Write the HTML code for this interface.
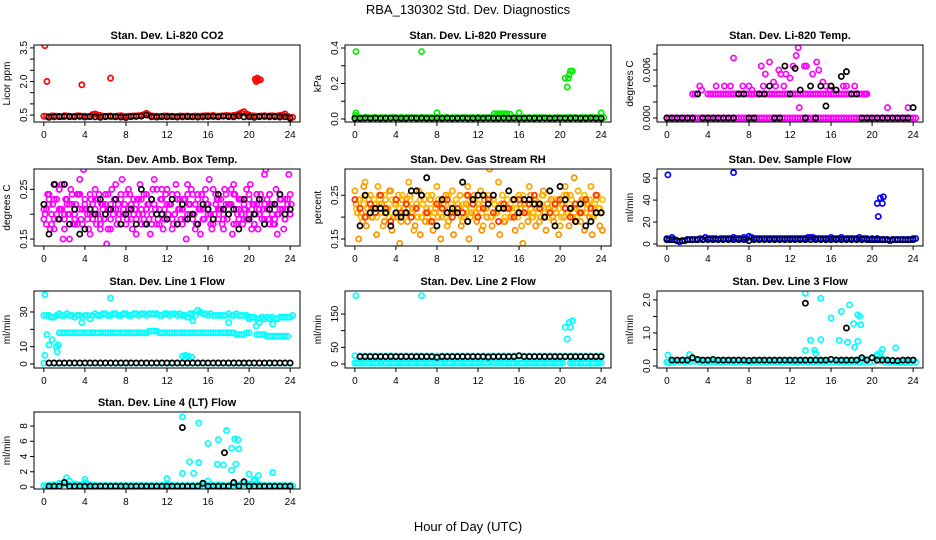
<!DOCTYPE html>
<html><head><meta charset="utf-8"><style>
html,body{margin:0;padding:0;background:#fff;}
svg{display:block;font-family:"Liberation Sans",Arial,sans-serif;}
</style></head><body>
<svg id="chart" width="936" height="540" viewBox="0 0 936 540">
<text x="468" y="14" text-anchor="middle" font-size="13">RBA_130302  Std. Dev. Diagnostics</text>
<text x="468" y="531" text-anchor="middle" font-size="13">Hour of Day (UTC)</text>
</svg>
<script>
const T49=[];for(let i=0;i<=48;i++)T49.push(i*0.5);
const T49b=[];for(let i=0;i<=48;i++)T49b.push(0.25+i*0.5);
const T97=[];for(let i=0;i<=96;i++)T97.push(i*0.25);
const T97b=[];for(let i=0;i<=96;i++)T97b.push(0.12+i*0.25);
const xTicks=[0,4,8,12,16,20,24];

// Panel 1 CO2
const co2Band=[0.45,0.43,0.46,0.44,0.47,0.45,0.44,0.46,0.45,0.44,0.55,0.48,0.44,0.46,0.45,0.47,0.44,0.45,0.46,0.48,0.58,0.46,0.45,0.44,0.46,0.45,0.44,0.45,0.46,0.44,0.45,0.46,0.47,0.48,0.45,0.46,0.47,0.49,0.55,0.65,0.5,0.46,0.45,0.47,0.46,0.45,0.48,0.55,0.35];
const co2Band2=[0.44,0.46,0.45,0.43,0.46,0.44,0.47,0.45,0.44,0.52,0.5,0.45,0.45,0.44,0.46,0.45,0.45,0.46,0.47,0.52,0.5,0.45,0.44,0.46,0.45,0.44,0.46,0.45,0.44,0.46,0.45,0.47,0.46,0.45,0.46,0.48,0.46,0.5,0.6,0.55,0.47,0.45,0.46,0.45,0.47,0.46,0.5,0.45,0.4];
const co2Black=[null,0.4,0.42,0.43,0.44,0.43,0.42,0.44,0.41,0.43,0.42,0.4,0.43,0.44,0.42,0.41,0.39,0.43,0.44,0.45,0.5,0.42,0.41,0.43,0.42,0.43,0.41,0.42,0.43,0.42,0.41,0.42,0.43,0.44,0.42,0.45,0.43,0.42,0.46,0.42,0.42,0.4,0.43,0.44,0.42,0.43,0.41,0.42,0.38];
const co2OutX=[0.1,0.3,3.7,6.5,20.6,20.8,20.9,21.1,20.7];
const co2OutY=[3.6,2.0,1.85,2.15,2.1,2.15,2.05,2.08,2.0];

// Panel 2 pressure
const presBand=[0.005,0.007,0.008,0.006,0.009,0.007,0.008,0.006,0.007,0.009,0.008,0.006,0.007,0.009,0.008,0.007,0.006,0.008,0.009,0.007,0.008,0.006,0.007,0.008,0.009,0.007,0.006,0.008,0.007,0.009,0.008,0.007,0.006,0.008,0.007,0.009,0.008,0.006,0.007,0.008,0.006,0.007,0.009,0.008,0.007,0.008,0.009,0.008,0.007];
const presBand2=[0.008,0.006,0.009,0.007,0.006,0.008,0.007,0.009,0.006,0.007,0.008,0.009,0.006,0.007,0.008,0.006,0.009,0.007,0.006,0.008,0.007,0.009,0.008,0.006,0.007,0.008,0.009,0.006,0.008,0.007,0.006,0.009,0.008,0.007,0.006,0.008,0.009,0.007,0.006,0.008,0.007,0.009,0.008,0.006,0.009,0.007,0.008,0.006,0.008];
const presBlack=[0.004,0.004,0.005,0.004,0.005,0.004,0.004,0.005,0.005,0.004,0.004,0.005,0.004,0.005,0.004,0.004,0.005,0.004,0.005,0.004,0.004,0.005,0.004,0.004,0.005,0.004,0.005,0.004,0.004,0.005,0.004,0.005,0.004,0.004,0.005,0.004,0.004,0.005,0.004,0.004,0.005,0.004,0.004,0.005,0.004,0.004,0.005,0.004,0.004];
const presOutX=[0.1,6.5,0.1,0.05,8,16,24,13.6,13.9,14.2,14.5,14.8,15.1,20.5,20.7,20.8,20.9,21.0,21.2];
const presOutY=[0.38,0.38,0.035,0.02,0.035,0.035,0.035,0.03,0.03,0.03,0.03,0.03,0.028,0.23,0.18,0.23,0.25,0.27,0.27];

// Panel 3 Li-820 temp
const tempZero=[0,0,0,0,0,0,0,0,0,0,0,0,0,0,0,0,0,0,0,0,0,0,0,0,0,0,0,0,0,0,0,0,0,0,0,0,0,0,0,0,0,0,0,0,0,0,0,0,0];
const tempMid=[null,null,null,null,null,0.003,0.003,null,0.003,0.003,0.003,0.003,0.003,0.003,0.003,0.003,0.003,0.003,0.003,0.003,0.003,0.003,0.003,0.003,0.003,0.003,0.003,0.003,0.003,0.003,0.003,0.003,0.003,0.003,0.003,0.003,0.003,0.003,0.003,0.003,null,null,null,null,null,null,null,null,null];
const tempMid2=[null,null,null,null,null,0.003,null,null,0.003,0.003,0.003,0.003,0.003,0.003,0.003,0.003,0.003,0.003,0.003,0.003,0.003,0.003,0.003,0.003,0.003,0.003,0.003,0.003,0.003,0.003,0.003,0.003,0.003,0.003,0.003,0.003,0.003,0.003,0.003,null,null,null,null,null,null,null,null,null,null];
const tempOutX=[6.5,4.8,3.2,3.4,5.6,6.2,7.4,8.0,8.3,9.2,9.6,10.0,10.4,10.9,11.1,11.6,12.0,12.3,12.6,12.8,13.4,13.6,14.2,14.6,14.8,15.2,15.5,16.0,17.2,17.5,18.3,21.5,23.5,12.9,9.4,11.4,10.6,15.9,19.4];
const tempOutY=[0.0075,0.004,0.004,0.0035,0.004,0.004,0.004,0.004,0.0035,0.0065,0.0055,0.007,0.0045,0.006,0.0055,0.0055,0.005,0.0065,0.0078,0.0088,0.0065,0.0065,0.0055,0.007,0.006,0.0045,0.004,0.004,0.004,0.004,0.004,0.0013,0.0013,0.0013,0.004,0.004,0.004,0.0035,0.003];
const tempBlack=[0,0,0,0,0,0,0.003,0,0,0,0,0,0,0,0.003,0.003,0,0,0.003,0.003,0.004,0,0,0.0065,0.003,0.0062,0.0035,0,0.004,0,0.004,0.0015,0.004,0.0035,0.0052,0.0058,0.003,0.003,0,0,0,0,0,0,0,0,0,0,0.0013];

// Panel 4 ambient box temp
const ambA=[0.22,0.18,0.24,0.20,0.17,0.23,0.21,0.26,0.19,0.22,0.15,0.24,0.20,0.18,0.27,0.21,0.23,0.19,0.16,0.22,0.25,0.20,0.18,0.21,0.24,0.17,0.22,0.20,0.26,0.19,0.23,0.21,0.18,0.25,0.22,0.20,0.16,0.23,0.21,0.19,0.24,0.22,0.20,0.27,0.18,0.21,0.23,0.19,0.25,0.22,0.17,0.20,0.24,0.21,0.18,0.23,0.26,0.20,0.19,0.22,0.24,0.16,0.21,0.23,0.20,0.18,0.25,0.22,0.19,0.21,0.17,0.24,0.20,0.22,0.26,0.18,0.21,0.23,0.19,0.25,0.20,0.17,0.22,0.24,0.21,0.19,0.28,0.23,0.18,0.20,0.22,0.16,0.24,0.21,0.19,0.23,0.20];
const ambB=[0.20,0.24,0.17,0.22,0.26,0.19,0.21,0.15,0.23,0.20,0.25,0.18,0.22,0.24,0.19,0.29,0.21,0.17,0.23,0.20,0.18,0.24,0.22,0.19,0.14,0.21,0.25,0.23,0.18,0.20,0.27,0.22,0.19,0.24,0.17,0.21,0.23,0.26,0.20,0.18,0.22,0.16,0.25,0.21,0.19,0.23,0.17,0.24,0.20,0.22,0.18,0.26,0.21,0.19,0.23,0.15,0.22,0.25,0.20,0.18,0.21,0.24,0.19,0.22,0.27,0.17,0.20,0.23,0.21,0.18,0.25,0.19,0.22,0.16,0.24,0.20,0.23,0.18,0.21,0.19,0.26,0.22,0.20,0.17,0.24,0.21,0.29,0.19,0.22,0.18,0.25,0.20,0.23,0.17,0.21,0.28,0.22];
const ambC=[0.21,0.23,0.19,0.25,0.20,0.22,0.18,0.24,0.21,0.20,0.23,0.19,0.22,0.17,0.21,0.24,0.20,0.22,0.19,0.23,0.21,0.18,0.25,0.20,0.22,0.19,0.23,0.21,0.20,0.24,0.18,0.22,0.21,0.19,0.23,0.20,0.22,0.24,0.19,0.21,0.23,0.18,0.20,0.22,0.24,0.19,0.21,0.23,0.20];
const ambD=[0.19,0.21,0.22,0.18,0.23,0.20,0.25,0.21,0.17,0.23,0.20,0.22,0.19,0.24,0.21,0.18,0.22,0.20,0.24,0.19,0.21,0.23,0.17,0.22,0.20,0.24,0.19,0.21,0.23,0.22,0.18,0.20,0.24,0.21,0.19,0.23,0.22,0.20,0.18,0.24,0.21,0.19,0.23,0.22,0.20,0.18,0.25,0.21,0.19,0.22,0.24,0.20,0.18,0.23,0.21,0.19,0.24,0.22,0.20,0.17,0.23,0.21,0.19,0.25,0.22,0.20,0.18,0.24,0.21,0.23,0.19,0.22,0.20,0.25,0.18,0.21,0.23,0.20,0.22,0.19,0.24,0.21,0.18,0.22,0.20,0.23,0.19,0.21,0.24,0.22,0.18,0.20,0.23,0.21,0.19,0.22,0.24];
const ambBlack=[0.22,0.16,0.26,0.19,0.26,0.18,0.21,0.16,0.17,0.21,0.20,0.23,0.20,0.21,0.23,0.18,0.20,0.21,0.18,0.25,0.18,0.23,0.20,0.20,0.19,0.23,0.18,0.22,0.19,0.20,0.18,0.22,0.21,0.19,0.24,0.21,0.20,0.21,0.17,0.23,0.19,0.20,0.23,0.18,0.21,0.22,0.24,0.20,0.21];

// Panel 5 gas stream RH
const rhA=[0.26,0.21,0.24,0.19,0.28,0.22,0.25,0.20,0.23,0.27,0.21,0.18,0.24,0.22,0.26,0.20,0.23,0.25,0.19,0.22,0.24,0.28,0.21,0.17,0.23,0.26,0.20,0.24,0.22,0.19,0.25,0.21,0.27,0.23,0.20,0.24,0.18,0.22,0.26,0.21,0.23,0.25,0.19,0.22,0.27,0.20,0.24,0.21,0.23,0.26,0.18,0.22,0.25,0.20,0.24,0.21,0.28,0.23,0.19,0.22,0.26,0.20,0.24,0.22,0.25,0.18,0.23,0.21,0.27,0.20,0.24,0.22,0.19,0.25,0.21,0.23,0.26,0.20,0.22,0.24,0.18,0.23,0.27,0.21,0.25,0.20,0.22,0.26,0.19,0.24,0.21,0.23,0.27,0.20,0.24,0.22,0.21];
const rhB=[0.23,0.15,0.21,0.27,0.18,0.24,0.20,0.22,0.16,0.25,0.23,0.19,0.21,0.26,0.17,0.23,0.20,0.14,0.24,0.21,0.19,0.25,0.22,0.18,0.20,0.16,0.23,0.19,0.21,0.24,0.17,0.22,0.20,0.15,0.23,0.25,0.19,0.21,0.16,0.24,0.22,0.18,0.20,0.23,0.15,0.21,0.25,0.19,0.22,0.17,0.24,0.20,0.31,0.18,0.23,0.21,0.16,0.25,0.19,0.22,0.20,0.24,0.17,0.21,0.23,0.14,0.22,0.19,0.25,0.21,0.18,0.23,0.20,0.26,0.17,0.22,0.24,0.19,0.21,0.16,0.23,0.20,0.25,0.18,0.22,0.29,0.19,0.21,0.24,0.17,0.23,0.20,0.16,0.22,0.25,0.18,0.17];
const rhC=[0.24,0.22,0.20,0.23,0.21,0.25,0.22,0.19,0.24,0.21,0.23,0.20,0.22,0.25,0.21,0.19,0.23,0.22,0.24,0.20,0.22,0.21,0.25,0.23,0.20,0.22,0.24,0.21,0.19,0.23,0.22,0.20,0.24,0.21,0.23,0.25,0.22,0.20,0.21,0.23,0.24,0.22,0.20,0.23,0.21,0.24,0.22,0.25,0.21];
const rhD=[0.22,0.24,0.20,0.23,0.25,0.21,0.22,0.24,0.20,0.23,0.21,0.25,0.22,0.20,0.24,0.23,0.21,0.22,0.25,0.20,0.23,0.24,0.21,0.22,0.20,0.24,0.23,0.21,0.25,0.22,0.20,0.23,0.24,0.21,0.22,0.20,0.25,0.23,0.21,0.24,0.22,0.20,0.23,0.25,0.21,0.22,0.24,0.20,0.23,0.21,0.25,0.22,0.24,0.20,0.23,0.21,0.22,0.25,0.20,0.24,0.23,0.21,0.22,0.20,0.24,0.25,0.21,0.23,0.22,0.20,0.24,0.21,0.23,0.25,0.22,0.20,0.21,0.24,0.23,0.22,0.20,0.25,0.21,0.23,0.24,0.22,0.20,0.23,0.21,0.25,0.22,0.24,0.20,0.23,0.21,0.22,0.24];
const rhBlack=[null,0.18,0.25,0.21,0.22,0.22,0.21,0.18,0.21,0.20,0.21,0.26,0.26,0.25,0.29,null,0.18,0.24,0.21,0.22,0.21,0.28,0.19,0.24,0.25,0.25,0.23,0.25,0.22,0.22,0.26,0.24,0.21,0.24,0.24,0.23,0.23,0.20,0.26,0.18,0.27,0.24,0.22,0.19,0.23,0.18,0.19,0.21,0.21];

// Panel 6 sample flow
const sfBand=[5,6,3,3,4,4,4,4,5,5,4,5,5,6,5,6,7,5,5,5,5,5,5,5,5,5,5,5,6,5,5,5,6,5,6,5,5,5,5,5,5,5,4,4,4,4,4,4,5];
const sfBand2=[4,4,2,3,4,4,5,6,5,5,5,5,5,5,5,5,6,5,5,5,5,5,5,5,5,5,5,6,6,5,5,5,5,5,5,5,5,6,5,4,4,4,4,3,4,4,4,4,5];
const sfBlack=[4,4,3,3,4,4,4,4,4,4,4,4,4,4,4,4,3,4,4,4,4,4,4,4,4,4,4,4,4,4,4,4,4,4,4,4,4,4,4,4,4,4,4,4,4,4,4,4,4];
const sfOutX=[0.1,6.5,20.5,20.6,20.8,21.0,21.1];
const sfOutY=[63,65,37,25,42,37,43];

// Panel 7 line 1 flow
const l1Upper=[28,28,27,29,28,28,27,28,28,26,29,28,29,28,29,28,29,28,29,29,28,29,29,28,29,29,28,28,27,29,31,29,28,28,28,28,29,28,28,28,27,27,26,26,26,26,27,27,27];
const l1Upper2=[28,27,28,28,29,28,28,27,28,28,28,29,28,29,28,29,28,29,28,29,29,29,28,29,28,29,29,28,29,28,30,29,29,28,28,28,28,29,28,28,27,26,27,27,27,26,27,27,28];
const l1Lower=[null,null,null,18,18,18,18,18,18,18,18,18,18,18,18,18,18,18,18,18,18,19,19,18,18,18,18,18,18,18,18,18,18,18,18,18,18,18,17,17,18,null,17,17,16,16,16,16,null];
const l1Lower2=[null,null,null,18,18,18,18,18,18,18,18,18,18,18,18,18,18,18,18,18,19,19,18,18,18,18,18,18,18,18,18,18,18,18,18,18,18,17,17,18,null,17,17,16,16,16,16,16,null];
const l1Low=[0.5,0.5,0.5,0.5,0.5,0.5,0.5,0.5,0.5,0.5,0.5,0.5,0.5,0.5,0.5,0.5,0.5,0.5,0.5,0.5,0.5,0.5,0.5,0.5,0.5,0.5,0.5,0.5,0.5,0.5,0.5,0.5,0.5,0.5,0.5,0.5,0.5,0.5,0.5,0.5,0.5,0.5,0.5,0.5,0.5,0.5,0.5,0.5,0.5];
const l1Black=[null,0.6,0.6,0.6,0.6,0.6,0.6,0.6,0.6,0.6,0.6,0.6,0.6,0.6,0.6,0.6,0.6,0.6,0.6,0.6,0.6,0.6,0.6,0.6,0.6,0.6,0.6,0.6,0.6,0.6,0.6,0.6,0.6,0.6,0.6,0.6,0.6,0.6,0.6,0.6,0.6,0.6,0.6,0.6,0.6,0.6,0.6,0.6,0.6];
const l1OutX=[0.1,6.5,0.1,0.3,0.5,0.8,1.2,1.3,1.4,3.7,14.5,18.0,20.0,20.7,21.0,22.3,13.5,13.8,14.1,14.4];
const l1OutY=[40,38,5,17,11,14,10,7,11,24,25,24,26,22,24,23,4.5,5,4.5,4];

// Panel 8 line 2 flow
const l2Upper=[25,24,24,24,24,24,24,25,24,24,24,24,24,24,24,24,24,24,24,24,24,24,24,24,24,24,24,24,24,24,24,24,24,24,24,24,24,24,24,24,24,24,24,24,24,24,24,24,25];
const l2Low=[3,3,3,3,3,3,3,3,3,3,3,3,3,3,3,3,3,3,3,3,3,3,3,3,3,3,3,3,3,3,3,3,3,3,3,3,3,3,3,3,3,null,3,3,3,3,3,3,3];
const l2Low2=[3,3,3,3,3,3,3,3,3,3,3,3,3,3,3,3,3,3,3,3,3,3,3,3,3,3,3,3,3,3,3,3,3,3,3,3,3,3,3,3,3,null,3,3,3,3,3,3,null];
const l2Black=[null,22,22,22,22,22,22,22,22,22,22,22,22,22,22,22,20,22,22,22,22,22,22,22,22,22,21,22,22,22,22,22,25,22,22,22,22,22,22,22,22,22,22,22,22,22,22,22,22];
const l2OutX=[0.1,6.5,20.5,20.7,20.9,21.0,21.2];
const l2OutY=[205,205,110,75,125,110,130];

// Panel 9 line 3 flow
const l3Band=[0.12,0.14,0.18,0.16,0.15,0.2,0.17,0.15,0.16,0.14,0.15,0.14,0.16,0.15,0.17,0.15,0.14,0.15,0.16,0.14,0.15,0.14,0.15,0.16,0.15,0.14,0.15,0.16,0.15,0.16,0.14,0.15,0.2,0.16,0.15,0.14,0.15,0.16,0.18,0.2,0.25,0.3,0.22,0.16,0.15,0.12,0.14,0.13,0.17];
const l3Band2=[0.1,0.12,0.14,0.12,0.13,0.14,0.12,0.11,0.12,0.12,0.11,0.12,0.12,0.11,0.12,0.12,0.11,0.12,0.12,0.11,0.12,0.12,0.11,0.12,0.12,0.11,0.12,0.12,0.11,0.12,0.12,0.11,0.12,0.12,0.11,0.12,0.12,0.11,0.12,0.12,0.14,0.15,0.12,0.12,0.11,0.1,0.1,0.11,0.12];
const l3Black=[null,0.18,0.18,0.18,0.18,0.25,0.2,0.18,0.18,0.2,0.18,0.18,0.18,0.18,0.18,0.18,0.17,0.18,0.18,0.18,0.18,0.18,0.18,0.18,0.18,0.18,0.18,0.18,0.18,0.18,0.18,0.18,0.2,0.18,0.18,0.18,0.18,0.18,0.25,0.18,0.25,0.18,0.18,0.18,0.17,0.16,0.18,0.18,0.18];
const l3OutX=[13.5,15.0,16.0,17.0,17.8,18.2,18.6,18.8,18.9,14.0,15.0,16.8,17.6,18.6,18.3,13.5,14.4,14.5,21.0,22.3,20.5,0.1,20.8,2.2];
const l3OutY=[2.2,2.05,1.45,1.65,1.85,1.28,1.55,1.5,1.25,0.78,0.8,0.78,0.72,0.75,0.57,0.47,0.48,0.38,0.5,0.55,0.35,0.33,0.4,0.35];
const l3BlackOutX=[13.5,17.5];
const l3BlackOutY=[1.9,1.15];

// Panel 10 line 4 flow
const l4Band=[0.2,0.25,0.3,0.5,0.6,0.8,0.4,0.3,0.6,0.3,0.2,0.2,0.2,0.2,0.2,0.2,0.2,0.2,0.2,0.2,0.2,0.2,0.2,0.2,0.3,0.2,0.2,0.2,0.2,0.2,0.2,0.3,0.2,0.2,0.3,0.2,0.2,0.5,0.3,0.6,0.4,0.8,0.3,0.2,0.2,0.2,0.2,0.2,0.2];
const l4Band2=[0.15,0.2,0.2,0.3,0.4,0.3,0.3,0.2,0.4,0.2,0.15,0.15,0.15,0.15,0.15,0.15,0.15,0.15,0.15,0.15,0.15,0.15,0.15,0.15,0.2,0.15,0.15,0.15,0.15,0.15,0.15,0.2,0.15,0.15,0.2,0.15,0.15,0.3,0.2,0.4,0.3,0.5,0.2,0.15,0.15,0.15,0.15,0.15,0.15];
const l4Black=[null,0.1,0.1,0.1,0.6,0.1,0.1,0.1,0.1,0.1,0.1,0.1,0.1,0.1,0.1,0.1,0.1,0.1,0.1,0.1,0.1,0.1,0.1,0.1,0.1,0.1,0.1,0.1,0.1,0.1,0.1,0.5,0.1,0.1,0.1,0.1,0.1,0.6,0.1,0.7,0.1,0.1,0.1,0.1,0.1,0.1,0.1,0.1,0.1];
const l4OutX=[13.5,15.1,17.8,18.6,18.9,17.0,16.0,18.3,19.0,14.2,15.1,16.9,17.5,18.7,18.3,13.5,14.6,20.0,20.9,22.3,12.0,2.2,4.0,20.5,16.0];
const l4OutY=[9.2,8.4,7.4,6.3,6.2,6.2,5.7,5.1,5.0,3.3,3.2,3.0,2.9,3.0,2.2,1.8,1.8,1.7,1.5,1.9,1.1,1.2,1.0,1.0,0.8];
const l4BlackOutX=[13.5,17.6];
const l4BlackOutY=[7.8,4.5];

const svg=document.getElementById('chart');
const NS='http://www.w3.org/2000/svg';
const colX=[34,345,657], rowY=[45,169,291,412], W=266, H=77;
function mk(tag,attrs,parent){const e=document.createElementNS(NS,tag);for(const k in attrs)e.setAttribute(k,attrs[k]);(parent||svg).appendChild(e);return e;}

function panel(key,col,row,title,ylab,ylim,yticks,ylabels,series){
  const x0=colX[col], y0=rowY[row];
  const g=mk('g',{});
  
  
  const xs=v=>x0+W*(0.04+v/24)/1.08;
  const ys=v=>y0+H-(v-ylim[0])/(ylim[1]-ylim[0])*H;
  const clip=mk('clipPath',{id:'c'+key},g);
  mk('rect',{x:x0,y:y0,width:W,height:H},clip);
  const pts=mk('g',{'clip-path':'url(#c'+key+')'},g);
  
  
  series.forEach(s=>{
    for(let i=0;i<s.y.length;i++){
      const v=s.y[i]; if(v===null||v===undefined) continue;
      const c=mk('circle',{cx:xs(s.x[i]).toFixed(2),cy:ys(v).toFixed(2),r:2.6,fill:'none',stroke:s.c,'stroke-width':1.7},pts);
      
      
    }
  });
  const box=mk('rect',{x:x0,y:y0,width:W,height:H,fill:'none',stroke:'#000','stroke-width':1},g);
  
  
  const t=mk('text',{x:x0+W/2,y:y0-6,'text-anchor':'middle','font-size':11,'font-weight':'bold'},g);
  t.textContent=title;
  
  
  const yl=mk('text',{x:0,y:0,'text-anchor':'middle','font-size':10,transform:`translate(${x0-24},${y0+H/2}) rotate(-90)`},g);
  yl.textContent=ylab;
  
  
  const yax=mk('g',{},g);
  
  
  mk('line',{x1:x0,x2:x0,y1:ys(yticks[0]),y2:ys(yticks[yticks.length-1]),stroke:'#000'},yax);
  yticks.forEach(v=>{
    mk('line',{x1:x0-4,x2:x0,y1:ys(v),y2:ys(v),stroke:'#000'},yax);
    const lab=ylabels[yticks.indexOf(v)];
    if(lab){const tl=mk('text',{x:0,y:0,'text-anchor':'middle','font-size':10,transform:`translate(${x0-7},${ys(v)}) rotate(-90)`},yax);tl.textContent=lab;
      
      }
  });
  const xax=mk('g',{},g);
  
  
  mk('line',{x1:xs(0),x2:xs(24),y1:y0+H,y2:y0+H,stroke:'#000'},xax);
  xTicks.forEach(v=>{
    mk('line',{x1:xs(v),x2:xs(v),y1:y0+H,y2:y0+H+4,stroke:'#000'},xax);
    const tl=mk('text',{x:xs(v),y:y0+H+16,'text-anchor':'middle','font-size':10},xax);
    tl.textContent=String(v);
    
    
  });
}
const MAG='#ff00ff', CY='#00ffff', BK='#000000';
panel('co2',0,0,'Stan. Dev. Li-820 CO2','Licor ppm',[0.19,3.63],[0.5,1,1.5,2,2.5,3,3.5],['0.5','','','2.0','','','3.5'],
 [{x:T49,y:co2Band,c:'#ff0000'},{x:T49b,y:co2Band2,c:'#ff0000'},{x:co2OutX,y:co2OutY,c:'#ff0000'},{x:T49,y:co2Black,c:BK}]);
panel('pressure',1,0,'Stan. Dev. Li-820 Pressure','kPa',[-0.017,0.417],[0,0.1,0.2,0.3,0.4],['0.0','','0.2','','0.4'],
 [{x:T49,y:presBand,c:'#00ee00'},{x:T49b,y:presBand2,c:'#00ee00'},{x:presOutX,y:presOutY,c:'#00ee00'},{x:T49,y:presBlack,c:BK}]);
panel('litemp',2,0,'Stan. Dev. Li-820 Temp.','degrees C',[-0.0005,0.00913],[0,0.002,0.004,0.006,0.008],['0.000','','','0.006',''],
 [{x:T49,y:tempZero,c:MAG},{x:T49b,y:tempZero,c:MAG},{x:T49,y:tempMid,c:MAG},{x:T49b,y:tempMid2,c:MAG},{x:tempOutX,y:tempOutY,c:MAG},{x:T49,y:tempBlack,c:BK}]);
panel('ambtemp',0,1,'Stan. Dev. Amb. Box Temp.','degrees C',[0.136,0.291],[0.15,0.2,0.25],['0.15','','0.25'],
 [{x:T97,y:ambA,c:MAG},{x:T97b,y:ambB,c:MAG},{x:T49,y:ambC,c:MAG},{x:T97,y:ambD,c:MAG},{x:T49,y:ambBlack,c:BK}]);
panel('rh',1,1,'Stan. Dev. Gas Stream RH','percent',[0.134,0.31],[0.15,0.2,0.25],['0.15','','0.25'],
 [{x:T97,y:rhA,c:'#ffa500'},{x:T97b,y:rhB,c:'#ff9000'},{x:T97b,y:rhD,c:'#ffc000'},{x:T49,y:rhC,c:'#ff3000'},{x:T49,y:rhBlack,c:BK}]);
panel('sampleflow',2,1,'Stan. Dev. Sample Flow','ml/min',[-1.8,68.3],[0,20,40,60],['0','20','40','60'],
 [{x:T49,y:sfBand,c:'#0000ff'},{x:T49b,y:sfBand2,c:'#0000ff'},{x:sfOutX,y:sfOutY,c:'#0000ff'},{x:T49,y:sfBlack,c:BK}]);
panel('line1',0,2,'Stan. Dev. Line 1 Flow','ml/min',[-2.3,42.1],[0,10,20,30],['0','10','','30'],
 [{x:T49,y:l1Upper,c:CY},{x:T49b,y:l1Upper2,c:CY},{x:T49,y:l1Lower,c:CY},{x:T49b,y:l1Lower2,c:CY},{x:T49,y:l1Low,c:CY},{x:l1OutX,y:l1OutY,c:CY},{x:T49,y:l1Black,c:BK}]);
panel('line2',1,2,'Stan. Dev. Line 2 Flow','ml/min',[-12,219],[0,50,100,150],['0','50','','150'],
 [{x:T49,y:l2Upper,c:CY},{x:T49,y:l2Low,c:CY},{x:T49b,y:l2Low2,c:CY},{x:l2OutX,y:l2OutY,c:CY},{x:T49,y:l2Black,c:BK}]);
panel('line3',2,2,'Stan. Dev. Line 3 Flow','ml/min',[-0.06,2.27],[0,0.5,1,1.5,2],['0.0','','1.0','','2.0'],
 [{x:T49,y:l3Band,c:CY},{x:T49b,y:l3Band2,c:CY},{x:l3OutX,y:l3OutY,c:CY},{x:T49,y:l3Black,c:BK},{x:l3BlackOutX,y:l3BlackOutY,c:BK}]);
panel('line4',0,3,'Stan. Dev. Line 4 (LT) Flow','ml/min',[-0.26,9.84],[0,2,4,6,8],['0','2','4','6','8'],
 [{x:T49,y:l4Band,c:CY},{x:T49b,y:l4Band2,c:CY},{x:l4OutX,y:l4OutY,c:CY},{x:T49,y:l4Black,c:BK},{x:l4BlackOutX,y:l4BlackOutY,c:BK}]);
</script>
</body></html>
